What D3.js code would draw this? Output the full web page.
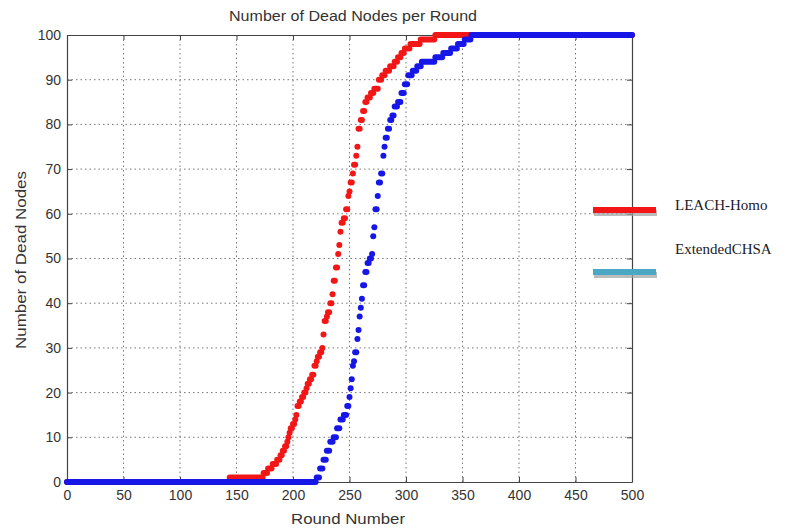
<!DOCTYPE html>
<html><head><meta charset="utf-8">
<script src="https://cdn.jsdelivr.net/npm/d3@7"></script>
<style>
html,body{margin:0;padding:0;background:#fff;}
svg{display:block;}
</style></head>
<body>
<svg id="chart" width="799" height="532"></svg>
<script>
// ---- data ----
const seriesNames = ["LEACH-Homo", "ExtendedCHSA"];
const xTicks = [0, 50, 100, 150, 200, 250, 300, 350, 400, 450, 500];
const yTicks = [0, 10, 20, 30, 40, 50, 60, 70, 80, 90, 100];
// rounds at which the dead-node count changes, and the count from that round on
const leachRounds = [0, 144, 174, 178, 182, 186, 189, 191, 193, 195, 196, 197, 198, 200, 202, 203, 204, 206, 208, 210, 212, 213, 215, 217, 219, 221, 222, 224, 226, 227, 228, 230, 231, 233, 235, 236, 238, 240, 241, 242, 243, 245, 247, 249, 250, 251, 253, 254, 256, 257, 258, 260, 262, 264, 266, 269, 272, 276, 279, 282, 286, 290, 293, 296, 299, 304, 313, 326, 500];
const leachDead   = [0, 1, 2, 3, 4, 5, 6, 7, 8, 9, 10, 11, 12, 13, 14, 15, 17, 18, 19, 20, 21, 22, 23, 24, 26, 27, 28, 29, 30, 33, 36, 37, 38, 40, 42, 45, 48, 51, 53, 56, 58, 59, 61, 64, 65, 67, 69, 71, 73, 75, 79, 81, 83, 85, 86, 87, 88, 90, 91, 92, 93, 94, 95, 96, 97, 98, 99, 100, 100];
const chsaRounds = [0, 221, 224, 227, 230, 233, 236, 239, 242, 245, 248, 250, 251, 252, 253, 254, 255, 257, 258, 259, 260, 261, 262, 264, 266, 268, 270, 271, 272, 273, 275, 276, 278, 280, 281, 282, 284, 286, 288, 290, 293, 296, 299, 302, 306, 310, 314, 326, 333, 340, 346, 352, 358, 500];
const chsaDead   = [0, 1, 3, 5, 7, 9, 10, 12, 14, 15, 17, 19, 21, 23, 26, 27, 29, 32, 34, 37, 39, 41, 44, 47, 49, 50, 51, 55, 57, 61, 64, 67, 69, 73, 75, 77, 79, 81, 82, 84, 85, 87, 89, 91, 92, 93, 94, 95, 96, 97, 98, 99, 100, 100];

const seriesColors = ["#f21616", "#1616e6"];
const legendColors = ["#f21616", "#4aa8c4"];

// ---- layout ----
const svg = d3.select("#chart");
const L = 67, R = 632, T = 35, B = 482;
const x = d3.scaleLinear().domain([0, 500]).range([L, R]);
const y = d3.scaleLinear().domain([0, 100]).range([B, T]);
const font = "'Liberation Sans', Arial, Helvetica, sans-serif";

// grid
const grid = svg.append("g");
grid.selectAll("line.vx").data(xTicks.slice(1, -1)).join("line")
  .attr("x1", d => x(d)).attr("x2", d => x(d)).attr("y1", T).attr("y2", B)
  .attr("stroke", "#777").attr("stroke-width", 1).attr("stroke-dasharray", "1.5,3");
grid.selectAll("line.hy").data(yTicks.slice(1, -1)).join("line")
  .attr("y1", d => y(d)).attr("y2", d => y(d)).attr("x1", L).attr("x2", R)
  .attr("stroke", "#777").attr("stroke-width", 1).attr("stroke-dasharray", "1.5,3");

// axes (MATLAB style: inward ticks on all sides)
const axisColor = "#444";
const gBottom = svg.append("g").attr("transform", `translate(0,${B})`)
  .call(d3.axisBottom(x).tickValues(xTicks).tickSizeInner(-5).tickSizeOuter(0).tickPadding(8));
const gTop = svg.append("g").attr("transform", `translate(0,${T})`)
  .call(d3.axisTop(x).tickValues(xTicks).tickSizeInner(-5).tickSizeOuter(0).tickFormat(""));
const gLeft = svg.append("g").attr("transform", `translate(${L},0)`)
  .call(d3.axisLeft(y).tickValues(yTicks).tickSizeInner(-5).tickSizeOuter(0).tickPadding(6));
const gRight = svg.append("g").attr("transform", `translate(${R},0)`)
  .call(d3.axisRight(y).tickValues(yTicks).tickSizeInner(-5).tickSizeOuter(0).tickFormat(""));
[gBottom, gTop, gLeft, gRight].forEach(g => {
  g.selectAll("path").attr("stroke", axisColor).attr("stroke-width", 1.2);
  g.selectAll("line").attr("stroke", axisColor);
  g.selectAll("text").attr("fill", "#333").style("font-family", font).style("font-size", "14px");
});

// series: one marker per round, drawn as round-capped horizontal runs
function drawSeries(rounds, dead, color) {
  const segs = rounds.map((r, i) => ({
    r0: r,
    r1: i < rounds.length - 1 ? Math.max(r, rounds[i + 1] - 1) : r,
    v: dead[i]
  }));
  svg.append("g").selectAll("line").data(segs).join("line")
    .attr("x1", d => x(d.r0)).attr("x2", d => x(d.r1))
    .attr("y1", d => y(d.v)).attr("y2", d => y(d.v))
    .attr("stroke", color).attr("stroke-width", 6).attr("stroke-linecap", "round");
}
drawSeries(leachRounds, leachDead, seriesColors[0]);
drawSeries(chsaRounds, chsaDead, seriesColors[1]);

// title and labels
svg.append("text").attr("x", 353).attr("y", 21).attr("text-anchor", "middle")
  .style("font-family", font).style("font-size", "14px").attr("fill", "#333")
  .attr("textLength", 248).attr("lengthAdjust", "spacingAndGlyphs")
  .text("Number of Dead Nodes per Round");
svg.append("text").attr("x", 348).attr("y", 524).attr("text-anchor", "middle")
  .style("font-family", font).style("font-size", "14px").attr("fill", "#333")
  .attr("textLength", 114).attr("lengthAdjust", "spacingAndGlyphs")
  .text("Round Number");
svg.append("text").attr("transform", `translate(26,260) rotate(-90)`).attr("text-anchor", "middle")
  .style("font-family", font).style("font-size", "14px").attr("fill", "#333")
  .attr("textLength", 178).attr("lengthAdjust", "spacingAndGlyphs")
  .text("Number of Dead Nodes");

// legend
const legY = [211, 273], textY = [210, 254];
const leg = svg.append("g");
seriesNames.forEach((name, i) => {
  leg.append("rect").attr("x", 594).attr("y", legY[i] - 1).attr("width", 63).attr("height", 6)
    .attr("fill", "#a0a0a0").attr("opacity", 0.7);
  leg.append("rect").attr("x", 593).attr("y", legY[i] - 4).attr("width", 63).attr("height", 6)
    .attr("fill", legendColors[i]);
  leg.append("text").attr("x", 675).attr("y", textY[i])
    .style("font-family", "'Liberation Serif', 'Times New Roman', serif").style("font-size", "15px")
    .attr("fill", "#1a1a2a").text(name);
});
</script>
</body></html>
